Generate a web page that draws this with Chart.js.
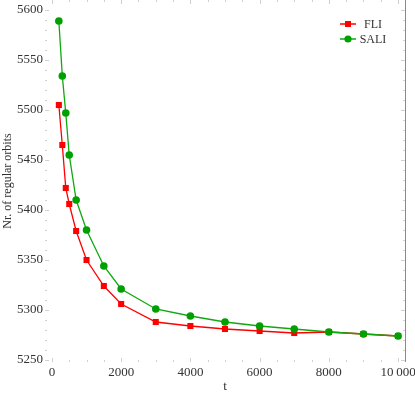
<!DOCTYPE html>
<html>
<head>
<meta charset="utf-8">
<script src="https://cdn.jsdelivr.net/npm/chart.js@4/dist/chart.umd.min.js"></script>
<style>
  html, body { margin: 0; padding: 0; background: #fff; }
  canvas { display: block; }
</style>
</head>
<body>
<canvas id="orbits" width="415" height="395"></canvas>
<script>
// values
var t    = [200, 300, 400, 500, 700, 1000, 1500, 2000, 3000, 4000, 5000, 6000, 7000, 8000, 9000, 10000]
var fli  = [5505, 5465, 5422, 5406, 5379, 5350, 5324, 5306, 5288, 5284, 5281, 5279, 5277, 5278, 5276, 5274]
var sali = [5589, 5534, 5497, 5455, 5410, 5380, 5344, 5321, 5301, 5294, 5288, 5284, 5281, 5278, 5276, 5274]

var xTicks = [0, 2000, 4000, 6000, 8000, 10000]
var xTickLabels = ['0', '2000', '4000', '6000', '8000', '10\u2009000']
var yTicks = [5250, 5300, 5350, 5400, 5450, 5500, 5550, 5600]

var RED = '#ff0000'
var GREEN = '#00a000'
var serif = 'Liberation Serif, Times New Roman, serif'

function pts(xs, ys) {
    var out = []
    for (var i = 0; i < xs.length; i++) {
        out.push({x: xs[i], y: ys[i]})
    }
    return out
}

// faint mathematica-like frame: inward ticks + right edge line
var frame = {
    id: 'frame',
    beforeDatasetsDraw: function(chart) {
        var ctx = chart.ctx, a = chart.chartArea
        var xs = chart.scales.x, ys = chart.scales.y
        ctx.save()
        ctx.strokeStyle = '#d0d0d0'
        ctx.lineWidth = 1
        ctx.beginPath()
        for (var v = 0; v <= 10000; v += 500) {
            var px = Math.round(xs.getPixelForValue(v)) + 0.5
            var len = (v % 2000 == 0) ? 4 : 2
            ctx.moveTo(px, a.bottom); ctx.lineTo(px, a.bottom - len)
            ctx.moveTo(px, a.top); ctx.lineTo(px, a.top + len)
        }
        for (var w = 5250; w <= 5600; w += 10) {
            var py = Math.round(ys.getPixelForValue(w)) + 0.5
            var l2 = (w % 50 == 0) ? 4 : 2
            ctx.moveTo(a.left, py); ctx.lineTo(a.left + l2, py)
            ctx.moveTo(a.right, py); ctx.lineTo(a.right - l2, py)
        }
        ctx.stroke()
        ctx.strokeStyle = '#8a8a8a'
        ctx.beginPath()
        ctx.moveTo(a.right + 0.5, a.top)
        ctx.lineTo(a.right + 0.5, a.bottom)
        ctx.stroke()
        ctx.restore()
    }
}

// legend drawn as line + marker + label, like the original
var lineLegend = {
    id: 'lineLegend',
    afterDraw: function(chart) {
        var ctx = chart.ctx, a = chart.chartArea
        var x0 = a.right - 65
        var items = chart.data.datasets
        ctx.save()
        ctx.font = '12px ' + serif
        ctx.textBaseline = 'middle'
        ctx.textAlign = 'center'
        for (var i = 0; i < items.length; i++) {
            var y = 24 + i * 15
            var ds = items[i]
            ctx.strokeStyle = ds.borderColor
            ctx.lineWidth = 1.5
            ctx.beginPath()
            ctx.moveTo(x0, y); ctx.lineTo(x0 + 16, y)
            ctx.stroke()
            ctx.fillStyle = ds.pointBackgroundColor
            ctx.beginPath()
            if (ds.pointStyle == 'rect') {
                ctx.rect(x0 + 5, y - 3, 6, 6)
            } else {
                ctx.arc(x0 + 8, y, 3.6, 0, Math.PI * 2)
            }
            ctx.fill()
            ctx.fillStyle = '#333'
            ctx.fillText(ds.label, x0 + 33, y + 1)
        }
        ctx.restore()
    }
}

const ctx = document.getElementById('orbits').getContext('2d');
const myChart = new Chart(ctx, {
    type: 'line',
    data: {
        datasets: [{
            label: 'FLI',
            data: pts(t, fli),
            borderColor: RED,
            backgroundColor: RED,
            pointBackgroundColor: RED,
            pointBorderWidth: 0,
            pointStyle: 'rect',
            pointRadius: 4.3,
            borderWidth: 1.3,
            order: 1
        }, {
            label: 'SALI',
            data: pts(t, sali),
            borderColor: '#10a810',
            backgroundColor: GREEN,
            pointBackgroundColor: GREEN,
            pointBorderWidth: 0,
            pointStyle: 'circle',
            pointRadius: 3.8,
            borderWidth: 1.3,
            order: 0
        }]
    },
    plugins: [frame, lineLegend],
    options: {
        responsive: false,
        animation: false,
        devicePixelRatio: 1,
        layout: { autoPadding: false, padding: { right: 10, top: 0, left: 0, bottom: 0 } },
        plugins: {
            legend: { display: false },
            tooltip: { enabled: false }
        },
        scales: {
            x: {
                type: 'linear',
                min: -200,
                max: 10200,
                grid: { display: false, drawTicks: false },
                border: { display: false },
                afterBuildTicks: function(s) { s.ticks = xTicks.map(function(v) { return {value: v} }) },
                afterFit: function(s) { s.height = 33; s.paddingLeft = 0; s.paddingRight = 0 },
                ticks: {
                    autoSkip: false,
                    maxRotation: 0,
                    padding: 3,
                    color: '#333',
                    font: { family: serif, size: 13 },
                    callback: function(v) { return xTickLabels[xTicks.indexOf(v)] }
                },
                title: {
                    display: true,
                    text: 't',
                    color: '#333',
                    font: { family: serif, size: 13 },
                    padding: { top: 0, bottom: 1 }
                }
            },
            y: {
                min: 5248,
                max: 5610,
                grid: { display: false, drawTicks: false },
                border: { display: false },
                afterBuildTicks: function(s) { s.ticks = yTicks.map(function(v) { return {value: v} }) },
                afterFit: function(s) { s.width = 45; s.paddingTop = 0; s.paddingBottom = 0 },
                ticks: {
                    padding: 2,
                    color: '#333',
                    font: { family: serif, size: 13 },
                    callback: function(v) { return String(v) }
                },
                title: {
                    display: true,
                    text: 'Nr. of regular orbits',
                    color: '#333',
                    font: { family: serif, size: 12 },
                    padding: { top: 1, bottom: 0 }
                }
            }
        }
    }
});
</script>
</body>
</html>
